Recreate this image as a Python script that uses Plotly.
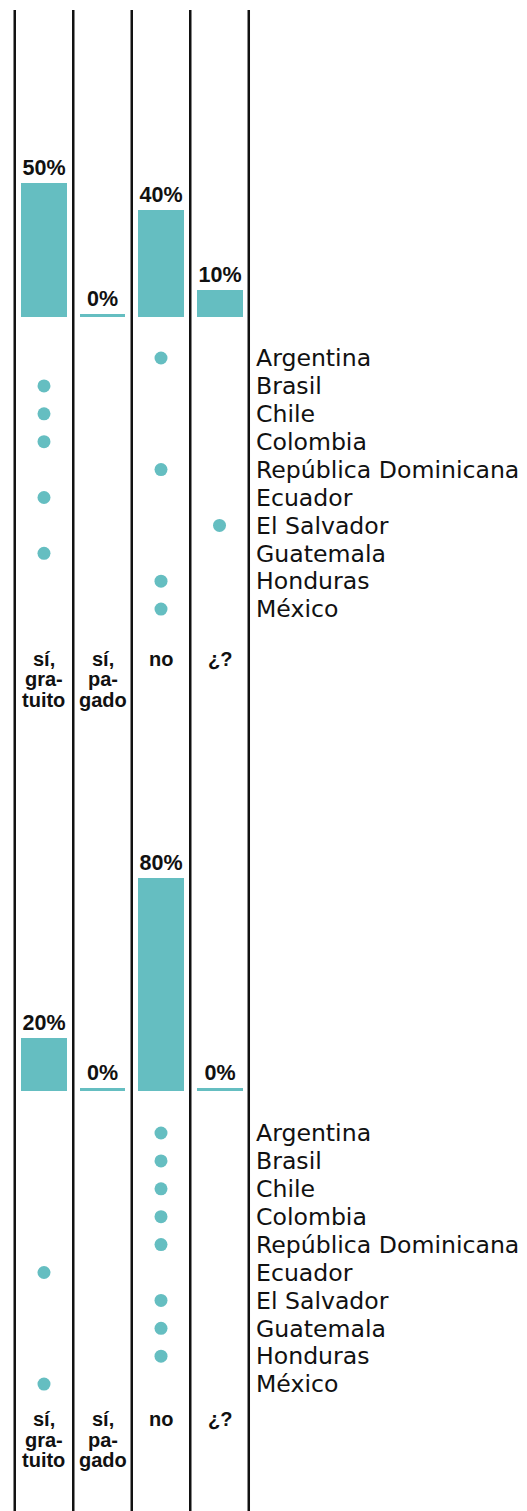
import plotly.graph_objects as go

# ---- data ----
answers = ["sí, gratuito", "sí, pagado", "no", "¿?"]
answer_lines = [["sí,", "gra-", "tuito"], ["sí,", "pa-", "gado"], ["no"], ["¿?"]]
countries = ["Argentina", "Brasil", "Chile", "Colombia", "República Dominicana",
             "Ecuador", "El Salvador", "Guatemala", "Honduras", "México"]

top_pct = [50, 0, 40, 10]
top_resp = ["no", "sí, gratuito", "sí, gratuito", "sí, gratuito", "no",
            "sí, gratuito", "¿?", "sí, gratuito", "no", "no"]

bottom_pct = [20, 0, 80, 0]
bottom_resp = ["no", "no", "no", "no", "no",
               "sí, gratuito", "no", "no", "no", "sí, gratuito"]

# ---- style ----
W, H = 527, 1511
TEAL = "#65bec1"
INK = "#111111"
MIN_BAR = 1.1  # minimum visible bar height for 0% answers


def fy(px):
    return 1 - px / H


fig = go.Figure()

panels = [
    dict(pct=top_pct, resp=top_resp, ybar="y", ydot="y2", label_px=[659, 679.5, 700]),
    dict(pct=bottom_pct, resp=bottom_resp, ybar="y3", ydot="y4", label_px=[1419, 1439.5, 1460]),
]

for p in panels:
    fig.add_trace(go.Bar(
        x=answers, y=[max(v, MIN_BAR) for v in p["pct"]],
        text=[f"{v}%" for v in p["pct"]], textposition="outside",
        constraintext="none", cliponaxis=False,
        width=0.786, marker=dict(color=TEAL, line=dict(width=0)),
        textfont=dict(family="Liberation Sans", size=21.5, color=INK, weight="bold"),
        xaxis="x", yaxis=p["ybar"], showlegend=False, hoverinfo="skip",
    ))
    fig.add_trace(go.Scatter(
        x=p["resp"], y=countries, mode="markers",
        marker=dict(size=13, color=TEAL),
        xaxis="x", yaxis=p["ydot"], showlegend=False, cliponaxis=False,
    ))
    for ans, lines in zip(answers, answer_lines):
        for li, t in enumerate(lines):
            fig.add_annotation(
                x=ans, xref="x", y=fy(p["label_px"][li]), yref="paper",
                text=t, showarrow=False, xanchor="center", yanchor="middle",
                font=dict(family="Liberation Sans", size=20, color=INK, weight="bold"),
            )

# column separator lines
for i in range(len(answers) + 1):
    fig.add_shape(type="line", xref="x", yref="paper",
                  x0=i - 0.5, x1=i - 0.5, y0=0, y1=fy(10),
                  line=dict(color=INK, width=2.5))

cat_axis = dict(type="category", categoryorder="array", categoryarray=countries,
                range=[9.5, -0.5], anchor="free", position=255 / W, side="right",
                tickmode="array", tickvals=countries, ticktext=countries,
                showgrid=False, zeroline=False, showline=False, ticks="",
                tickfont=dict(family="DejaVu Sans", size=23.6, color=INK))
bar_axis = dict(showgrid=False, zeroline=False, showline=False, visible=False, anchor="x")

fig.update_layout(
    width=W, height=H,
    margin=dict(l=0, r=0, t=0, b=0),
    paper_bgcolor="white", plot_bgcolor="rgba(0,0,0,0)",
    bargap=0,
    xaxis=dict(type="category", categoryorder="array", categoryarray=answers,
               range=[-0.752, 8.256], visible=False, domain=[0, 1]),
    yaxis=dict(bar_axis, range=[0, 60], domain=[fy(317), fy(317 - 0.6 * 268)]),
    yaxis2=dict(cat_axis, domain=[fy(358 + 27.9 * 9.5), fy(358 - 27.9 * 0.5)]),
    yaxis3=dict(bar_axis, range=[0, 90], domain=[fy(1091), fy(1091 - 0.9 * 267)]),
    yaxis4=dict(cat_axis, domain=[fy(1133 + 27.9 * 9.5), fy(1133 - 27.9 * 0.5)]),
)

fig.write_html("out.html", config={"displayModeBar": False},
               post_script="document.body.style.margin='0';")
